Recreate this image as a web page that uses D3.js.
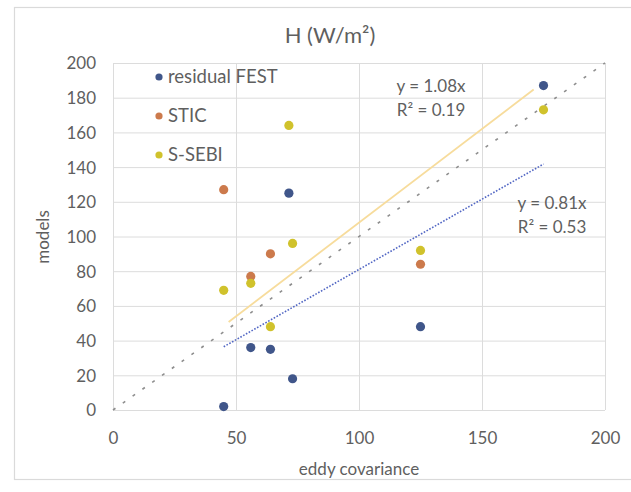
<!DOCTYPE html>
<html>
<head>
<meta charset="utf-8">
<script src="https://cdn.jsdelivr.net/npm/d3@7"></script>
<style>
  html, body { margin: 0; padding: 0; background: #ffffff; }
  svg { display: block; }
  text { font-family: Lato, "Liberation Sans", sans-serif; fill: #5f5f5f; }
</style>
</head>
<body>
<svg id="chart" width="631" height="492"></svg>
<script>
// ---- data ----
const seriesNames = ["residual FEST", "STIC", "S-SEBI"];
const festX  = [45, 56, 64, 71.5, 73, 125, 175];
const festY  = [2, 36, 35, 125, 18, 48, 187];
const sticX  = [45, 56, 64, 125];
const sticY  = [127, 77, 90, 84];
const ssebiX = [45, 56, 64, 71.5, 73, 125, 175];
const ssebiY = [69, 73, 48, 164, 96, 92, 173];
const xTicks = [0, 50, 100, 150, 200];
const yTicks = [0, 20, 40, 60, 80, 100, 120, 140, 160, 180, 200];
const trendSlopes = [1.08, 0.81];
const trendFrom = [47, 45];
const trendTo = [171, 175];
const trendEq = ["y = 1.08x", "y = 0.81x"];
const trendR2 = ["R² = 0.19", "R² = 0.53"];
const oneToOne = [0, 200];
const titleText = "H (W/m²)";
const xTitle = "eddy covariance";
const yTitle = "models";

// ---- styling ----
const colors = ["#40568a", "#cc7a4c", "#d0c22c"];
const trendColors = ["#f7dc9c", "#5267c4"];

const svg = d3.select("#chart");
const m = { left: 113, right: 605, top: 63, bottom: 410 };
const x = d3.scaleLinear().domain([0, 200]).range([m.left, m.right]);
const y = d3.scaleLinear().domain([0, 200]).range([m.bottom, m.top]);

// outer chart border
svg.append("rect").attr("x", 14.5).attr("y", 7.5).attr("width", 640).attr("height", 472)
  .attr("fill", "none").attr("stroke", "#dadada").attr("stroke-width", 1.2);

// gridlines via axes
const gy = svg.append("g").attr("transform", `translate(${m.left},0)`)
  .call(d3.axisLeft(y).tickValues(yTicks).tickSize(-(m.right - m.left)).tickFormat(""));
const gx = svg.append("g").attr("transform", `translate(0,${m.bottom})`)
  .call(d3.axisBottom(x).tickValues(xTicks).tickSize(-(m.bottom - m.top)).tickFormat(""));
[gx, gy].forEach(g => {
  g.select(".domain").remove();
  g.selectAll("line").attr("stroke", "#dcdcdc").attr("stroke-width", 1);
});

// tick labels
const yl = svg.append("g").attr("transform", `translate(${m.left - 17},0)`)
  .call(d3.axisLeft(y).tickValues(yTicks).tickSize(0).tickPadding(0));
yl.select(".domain").remove();
yl.selectAll("text").attr("font-size", 17).attr("fill", "#5f5f5f")
  .style("font-family", "Lato, sans-serif").attr("dy", "0.35em");
const xl = svg.append("g").attr("transform", `translate(0,${m.bottom + 22})`)
  .call(d3.axisBottom(x).tickValues(xTicks).tickSize(0).tickPadding(0));
xl.select(".domain").remove();
xl.selectAll("text").attr("font-size", 17).attr("fill", "#5f5f5f")
  .style("font-family", "Lato, sans-serif");

// 1:1 line
svg.append("line")
  .attr("x1", x(oneToOne[0])).attr("y1", y(oneToOne[0]))
  .attr("x2", x(oneToOne[1])).attr("y2", y(oneToOne[1]))
  .attr("stroke", "#8e8e8e").attr("stroke-width", 1.6).attr("stroke-dasharray", "3,9");

// trend lines
trendSlopes.forEach((s, i) => {
  svg.append("line")
    .attr("x1", x(trendFrom[i])).attr("y1", y(s * trendFrom[i]))
    .attr("x2", x(trendTo[i])).attr("y2", y(s * trendTo[i]))
    .attr("stroke", trendColors[i]).attr("stroke-width", i === 0 ? 1.8 : 1.6)
    .attr("stroke-dasharray", i === 0 ? null : "1.6,1.6");
});

// points
const series = [
  { xs: festX, ys: festY },
  { xs: sticX, ys: sticY },
  { xs: ssebiX, ys: ssebiY }
];
series.forEach((s, i) => {
  svg.append("g").selectAll("circle")
    .data(s.xs.map((v, j) => [v, s.ys[j]]))
    .join("circle")
    .attr("cx", d => x(d[0])).attr("cy", d => y(d[1]))
    .attr("r", 4.6).attr("fill", colors[i]);
});

// trend equations
const eqPos = [[431, 86], [552, 203]];
trendEq.forEach((t, i) => {
  const g = svg.append("g").attr("font-size", 17);
  g.append("text").attr("x", eqPos[i][0]).attr("y", eqPos[i][1]).attr("dy", "0.35em")
    .attr("text-anchor", "middle").text(t);
  g.append("text").attr("x", eqPos[i][0]).attr("y", eqPos[i][1] + 24).attr("dy", "0.35em")
    .attr("text-anchor", "middle").text(trendR2[i]);
});

// legend
const leg = svg.append("g").attr("transform", "translate(159,77)");
seriesNames.forEach((n, i) => {
  leg.append("circle").attr("cx", 0).attr("cy", i * 39).attr("r", 3.6).attr("fill", colors[i]);
  leg.append("text").attr("x", 9).attr("y", i * 39).attr("dy", "0.35em")
    .attr("font-size", 18.5).text(n);
});

// titles
svg.append("text").attr("x", 330).attr("y", 35).attr("dy", "0.35em")
  .attr("text-anchor", "middle").attr("font-size", 22).text(titleText);
svg.append("text").attr("x", 359).attr("y", 469).attr("dy", "0.35em")
  .attr("text-anchor", "middle").attr("font-size", 17).text(xTitle);
svg.append("text").attr("transform", "translate(43,237) rotate(-90)").attr("dy", "0.35em")
  .attr("text-anchor", "middle").attr("font-size", 17).text(yTitle);
</script>
</body>
</html>
